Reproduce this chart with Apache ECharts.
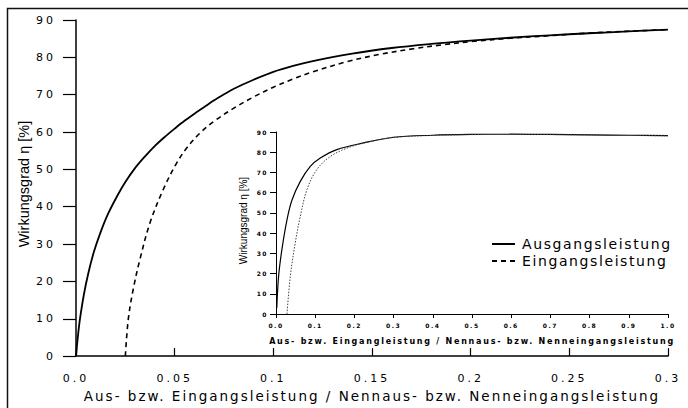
<!DOCTYPE html>
<html>
<head>
<meta charset="utf-8">
<script src="https://cdn.jsdelivr.net/npm/echarts@6/dist/echarts.min.js"></script>
<style>
html,body{margin:0;padding:0;background:#fff}
#main{width:688px;height:408px}
#main text[style*="11px"]{letter-spacing:3px}
#main text[style*="13.5px"]{letter-spacing:2px}
#main text[style*="14px"]{letter-spacing:1.6px}
#main text[style*="6px"]{letter-spacing:1.5px}
#main text[style*="8px"]{letter-spacing:1.75px}
</style>
</head>
<body>
<div id="main"></div>
<script>
// ---- data ----
const seriesNames = ['Ausgangsleistung', 'Eingangsleistung'];

// main chart: Ausgangsleistung (solid)
const ausX = [0, 0.001, 0.002, 0.004, 0.0063, 0.009, 0.0122, 0.016, 0.0206, 0.025, 0.03, 0.035, 0.04, 0.045, 0.05, 0.055, 0.06, 0.065, 0.07, 0.075, 0.08, 0.09, 0.1, 0.11, 0.12, 0.14, 0.16, 0.18, 0.2, 0.22, 0.24, 0.26, 0.28, 0.3];
const ausY = [0, 5.5, 9.9, 16.5, 22.3, 27.8, 32.8, 37.8, 42.6, 46.6, 50.4, 53.5, 56.3, 58.7, 60.9, 63.0, 64.9, 66.7, 68.5, 70.1, 71.6, 74.0, 76.1, 77.7, 79.0, 81.0, 82.5, 83.6, 84.5, 85.25, 85.9, 86.45, 86.95, 87.4];

// main chart: Eingangsleistung (dashed)
const einX = [0.025, 0.0265, 0.029, 0.0324, 0.0375, 0.0442, 0.051, 0.0565, 0.0628, 0.07, 0.08, 0.09, 0.1, 0.11, 0.12, 0.137, 0.154, 0.171, 0.185, 0.2, 0.22, 0.24, 0.26, 0.28, 0.3];
const einY = [0, 9.9, 17.9, 25.9, 35.7, 44.6, 51.7, 56, 59.7, 62.9, 66.4, 69.4, 72.0, 74.2, 76.1, 78.8, 80.8, 82.3, 83.3, 84.2, 85.1, 85.8, 86.5, 87.0, 87.4];

// inset chart: Ausgangsleistung
const insetAusX = [0.002, 0.0066, 0.015, 0.028, 0.041, 0.062, 0.0875, 0.113, 0.155, 0.223, 0.3, 0.4, 0.5, 0.6, 0.7, 0.8, 0.9, 1.0];
const insetAusY = [3, 18.6, 31.8, 46.6, 56.5, 65.6, 73, 77.1, 81.3, 84.6, 87.4, 88.4, 88.8, 88.9, 88.8, 88.6, 88.4, 88.2];

// inset chart: Eingangsleistung
const insetEinX = [0.028, 0.0365, 0.049, 0.062, 0.079, 0.104, 0.1385, 0.181, 0.23, 0.3, 0.4, 0.5, 0.6, 0.7, 0.8, 0.9, 1.0];
const insetEinY = [0, 18.6, 35, 48.3, 61.5, 71.4, 77.9, 82, 84.8, 87.3, 88.3, 88.7, 88.8, 88.7, 88.5, 88.3, 88.1];

// tick labels
const mainXTicks = ['0.0', '0.05', '0.1', '0.15', '0.2', '0.25', '0.3'];
const insetXTicks = ['0.0', '0.1', '0.2', '0.3', '0.4', '0.5', '0.6', '0.7', '0.8', '0.9', '1.0'];
const yTicks = ['0', '10', '20', '30', '40', '50', '60', '70', '80', '90'];

const mainXName = 'Aus- bzw. Eingangsleistung / Nennaus- bzw. Nenneingangsleistung';
const insetXName = 'Aus- bzw. Eingangleistung / Nennaus- bzw. Nenneingangsleistung';
const yName = 'Wirkungsgrad \u03b7 [%]';

// ---- chart ----
const pairs = (xs, ys) => xs.map((x, i) => [x, ys[i]]);
const black = '#000';

const chart = echarts.init(document.getElementById('main'), null, {renderer: 'svg', width: 688, height: 408});

const lineSeries = (name, xi, data, lineStyle) => ({
  name, type: 'line', xAxisIndex: xi, yAxisIndex: xi, symbol: 'none', showSymbol: false,
  smooth: 0.35, lineStyle, itemStyle: {color: black, opacity: 0}, data
});

chart.setOption({
  animation: false,
  backgroundColor: '#fff',
  grid: [
    {left: 76, top: 20, width: 592, height: 337},
    {left: 276, top: 132, width: 392, height: 182}
  ],
  xAxis: [
    {
      type: 'value', gridIndex: 0, min: 0, max: 0.3, interval: 0.05,
      axisLine: {lineStyle: {color: black, width: 1.5}},
      axisTick: {inside: true, length: 8, lineStyle: {color: black, width: 1.2}},
      axisLabel: {margin: 17, color: black, fontFamily: 'DejaVu Sans', fontSize: 11,
        formatter: (v, i) => mainXTicks[i]},
      splitLine: {show: false},
      name: mainXName, nameLocation: 'middle', nameGap: 29,
      nameTextStyle: {color: black, fontFamily: 'DejaVu Sans', fontSize: 13.5}
    },
    {
      type: 'value', gridIndex: 1, min: 0, max: 1, interval: 0.1,
      axisLine: {lineStyle: {color: black, width: 1}},
      axisTick: {inside: false, length: 4, lineStyle: {color: black, width: 1}},
      axisLabel: {margin: 8, color: black, fontFamily: 'DejaVu Sans', fontWeight: 'bold', fontSize: 6,
        formatter: (v, i) => insetXTicks[i]},
      splitLine: {show: false},
      name: insetXName, nameLocation: 'middle', nameGap: 23,
      nameTextStyle: {color: black, fontFamily: 'DejaVu Sans', fontWeight: 'bold', fontSize: 8}
    }
  ],
  yAxis: [
    {
      type: 'value', gridIndex: 0, min: 0, max: 90, interval: 10,
      axisLine: {show: true, lineStyle: {color: black, width: 1.5}},
      axisTick: {show: true, inside: false, length: 13, lineStyle: {color: black, width: 1.2}},
      axisLabel: {margin: 20, color: black, fontFamily: 'DejaVu Sans', fontSize: 11,
        formatter: (v, i) => yTicks[i]},
      splitLine: {show: false},
      name: yName, nameLocation: 'middle', nameGap: 42,
      nameTextStyle: {color: black, fontFamily: 'Liberation Sans', fontSize: 14.5, padding: [0, 0, 0, 8]}
    },
    {
      type: 'value', gridIndex: 1, min: 0, max: 90, interval: 10,
      axisLine: {show: true, lineStyle: {color: black, width: 1}},
      axisTick: {show: true, inside: false, length: 6, lineStyle: {color: black, width: 1}},
      axisLabel: {margin: 8, color: black, fontFamily: 'DejaVu Sans', fontWeight: 'bold', fontSize: 6,
        formatter: (v, i) => yTicks[i]},
      splitLine: {show: false},
      name: yName, nameLocation: 'middle', nameGap: 28,
      nameTextStyle: {color: black, fontFamily: 'Liberation Sans', fontSize: 10, padding: [0, 0, 0, 5]}
    }
  ],
  legend: {
    data: seriesNames, orient: 'vertical', left: 486, top: 232,
    itemWidth: 23, itemHeight: 14, itemGap: 3,
    itemStyle: {opacity: 0},
    textStyle: {color: black, fontFamily: 'DejaVu Sans', fontSize: 14, padding: [0, 0, 0, 2]}
  },
  graphic: [
    {type: 'rect', silent: true, shape: {x: 7.5, y: 8.5, width: 700, height: 420},
      style: {fill: 'none', stroke: '#111', lineWidth: 1.5}}
  ],
  series: [
    lineSeries(seriesNames[0], 0, pairs(ausX, ausY), {color: black, width: 1.8}),
    lineSeries(seriesNames[1], 0, pairs(einX, einY), {color: black, width: 1.6, type: [5, 4]}),
    lineSeries(seriesNames[0], 1, pairs(insetAusX, insetAusY), {color: black, width: 1.2}),
    lineSeries(seriesNames[1], 1, pairs(insetEinX, insetEinY), {color: '#444', width: 1, type: [1.5, 1.5]})
  ]
});
</script>
</body>
</html>
